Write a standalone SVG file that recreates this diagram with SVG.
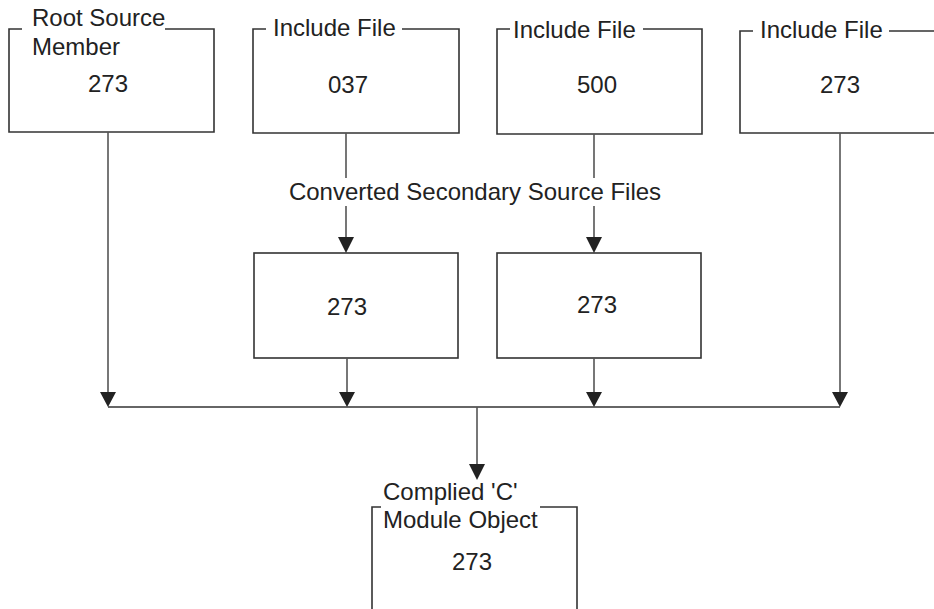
<svg xmlns="http://www.w3.org/2000/svg" width="934" height="609" viewBox="0 0 934 609">
<defs>
<style>
text{font-family:"Liberation Sans",Arial,sans-serif;font-size:24px;fill:#222}
.mid{text-anchor:middle}
.box{fill:none;stroke:#333;stroke-width:1.6}
.ln{fill:none;stroke:#555;stroke-width:1.6}
.hd{fill:#222}
</style>
</defs>
<rect width="934" height="609" fill="#fff"/>
<g id="root">
<path class="box" d="M22,29 H9 V132 H214 V29 H165"/>
<text x="32" y="26">Root Source</text>
<text x="32" y="55">Member</text>
<text class="mid" x="108" y="92">273</text>
</g>
<g id="inc037">
<path class="box" d="M266,29 H253 V133 H459 V29 H402"/>
<text x="273" y="36">Include File</text>
<text class="mid" x="348" y="93">037</text>
</g>
<g id="inc500">
<path class="box" d="M510,29 H497 V134 H702 V29 H643"/>
<text x="513" y="38">Include File</text>
<text class="mid" x="597" y="93">500</text>
</g>
<g id="inc273">
<path class="box" d="M753,31 H740 V133 H934 M889,31 H934"/>
<text x="760" y="38">Include File</text>
<text class="mid" x="840" y="93">273</text>
</g>
<g id="conv1">
<rect class="box" x="254" y="253" width="204" height="105"/>
<text class="mid" x="347" y="315">273</text>
</g>
<g id="conv2">
<rect class="box" x="497" y="253" width="204" height="105"/>
<text class="mid" x="597" y="313">273</text>
</g>
<g id="compiled">
<path class="box" d="M381,507 H372 V609 M577,609 V507 H540"/>
<text x="383" y="500">Complied 'C'</text>
<text x="383" y="528">Module Object</text>
<text class="mid" x="472" y="570">273</text>
</g>
<g id="connectors">
<text class="mid" x="475" y="200">Converted Secondary Source Files</text>
<path class="ln" d="M346,133 V178 M346,206 V238"/>
<path class="hd" d="M338,237 L354,237 L346,253 Z"/>
<path class="ln" d="M594,134 V178 M594,206 V238"/>
<path class="hd" d="M586,237 L602,237 L594,253 Z"/>
<path class="ln" d="M108,132 V393"/>
<path class="hd" d="M100,392 L116,392 L108,407 Z"/>
<path class="ln" d="M347,358 V393"/>
<path class="hd" d="M339,392 L355,392 L347,407 Z"/>
<path class="ln" d="M594,358 V393"/>
<path class="hd" d="M586,392 L602,392 L594,407 Z"/>
<path class="ln" d="M840,133 V393"/>
<path class="hd" d="M832,392 L848,392 L840,407 Z"/>
<path class="box" d="M108,407 H840"/>
<path class="ln" d="M477,407 V465"/>
<path class="hd" d="M469,464 L485,464 L477,480 Z"/>
</g>
</svg>
